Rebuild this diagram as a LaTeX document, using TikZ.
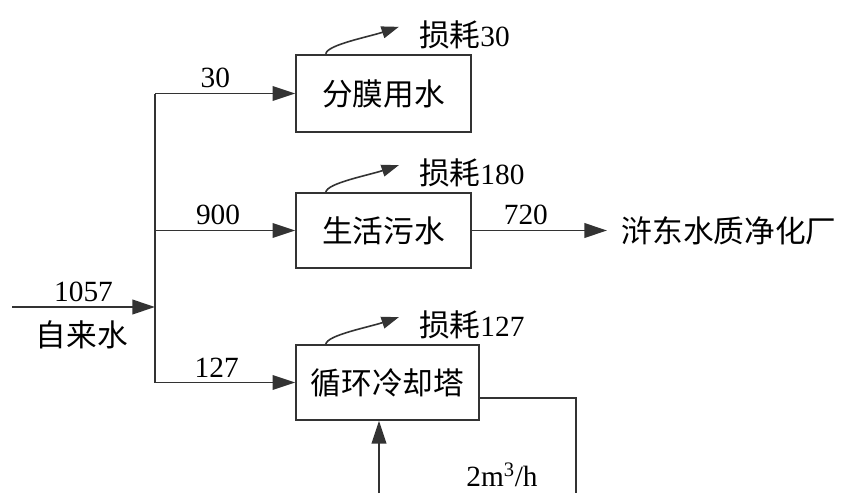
\documentclass[tikz,border=0pt]{standalone}
\usepackage{fontspec}
\setmainfont{Liberation Serif}
\newfontfamily\cjk{Noto Sans CJK SC}
\usetikzlibrary{arrows.meta}

\begin{document}
\begin{tikzpicture}[x=0.75pt,y=-0.75pt,
    box/.style={draw=black!80, line width=1.5pt, inner sep=0pt, font=\cjk\fontsize{23}{27}\selectfont},
    pipe/.style={draw=black!80, line width=1.3pt},
    flow/.style={pipe, -{Triangle[length=17pt,width=11pt]}},
    loss/.style={draw=black!80, line width=1.2pt, -{Triangle[length=13pt,width=9pt]}},
    num/.style={font=\fontsize{22}{26}\selectfont},
    lbl/.style={font=\cjk\fontsize{23}{27}\selectfont}]
    \useasboundingbox (0,0) rectangle (843,493);
    \node[box, minimum width=131pt, minimum height=58pt] (fenmo) at (383.5,93.5) {分膜用水};
    \node[box, minimum width=131pt, minimum height=56pt] (shenghuo) at (383.5,230.5) {生活污水};
    \node[box, minimum width=137pt, minimum height=56pt] (xunhuan) at (387.5,382.5) {循环冷却塔};
    \node[lbl, anchor=west, inner xsep=11pt] (plant) at (607,230.5) {浒东水质净化厂};
    \coordinate (src) at (12,307);
    \coordinate (split) at (155,307);
    \draw[flow] (src) -- (split) node[midway, above, num] (inflow) {1057};
    \node[lbl] (tap) at (82,335) {自来水};
    \draw[pipe] (split |- fenmo.west) -- (split |- xunhuan.west);
    \draw[flow] (split |- fenmo.west) -- (fenmo.west) node[pos=0.43, above, num] {30};
    \draw[flow] (split |- shenghuo.west) -- (shenghuo.west) node[pos=0.45, above, num] {900};
    \draw[flow] (split |- xunhuan.west) -- (xunhuan.west) node[pos=0.44, above, num] {127};
    \draw[flow] (shenghuo.east) -- (plant.west) node[pos=0.4, above, num] {720};
    \foreach \b/\v in {fenmo/30, shenghuo/180, xunhuan/127}{
        \coordinate (\b-tail) at ([xshift=23pt]\b.north west);
        \draw[loss] (\b-tail) .. controls +(1,-9) and +(-30,10) .. +(73,-27) coordinate (\b-tip);
        \node[anchor=west, inner sep=0pt, num] (\b-loss) at ([shift={(20,8)}]\b-tip) {{\cjk\fontsize{23}{27}\selectfont 损耗}\v};
    }
    \coordinate (drain) at (576,493);
    \coordinate (makeup) at (379,493);
    \draw[pipe] ([yshift=-11.5pt]xunhuan.east) -| (drain);
    \draw[flow] (makeup) -- (makeup |- xunhuan.south);
    \node[num] (rate) at (502,475) {2m\textsuperscript{3}/h};
\end{tikzpicture}
\end{document}
